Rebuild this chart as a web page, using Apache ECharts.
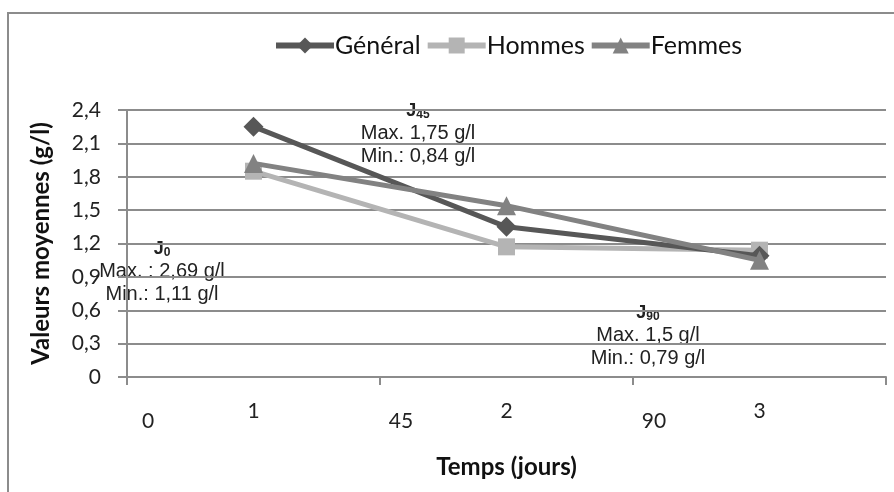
<!DOCTYPE html>
<html>
<head>
<meta charset="utf-8">
<script src="https://cdn.jsdelivr.net/npm/echarts@6/dist/echarts.min.js"></script>
<style>
  html, body { margin: 0; padding: 0; background: #fff; }
  #main { width: 894px; height: 492px; }
</style>
</head>
<body>
<div id="main"></div>
<script>
// data
var categories = ['1', '2', '3'];
var dayLabels = ['0', '45', '90', ''];
var general = [2.25, 1.35, 1.09];
var hommes = [1.85, 1.17, 1.14];
var femmes = [1.92, 1.54, 1.05];
var yTicks = { min: 0, max: 2.4, step: 0.3 };

var font = 'Lato, "Open Sans", sans-serif';
var gridColor = '#8c8c8c';

var chart = echarts.init(document.getElementById('main'));

// text boxes J0 / J45 / J90
function note(cx, top, day, max, min) {
    return {
        type: 'text',
        x: cx, y: top,
        silent: true,
        style: {
            text: '{j|J}{s|' + day + '}\n{t|' + max + '}\n{t|' + min + '}',
            align: 'center',
            textAlign: 'center',
            verticalAlign: 'top',
            fill: '#222',
            rich: {
                j: { fontSize: 18, fontWeight: 'bold', fontFamily: 'Liberation Sans', fill: '#222', lineHeight: 22 },
                s: { fontSize: 12, fontWeight: 'bold', fontFamily: 'Liberation Sans', fill: '#222', padding: [7, 0, 0, 0], lineHeight: 22 },
                t: { fontSize: 20, fontFamily: 'Liberation Sans', fill: '#222', lineHeight: 23 }
            }
        }
    };
}

var option = {
    backgroundColor: '#fff',
    animation: false,
    graphic: [
        {
            type: 'rect',
            shape: { x: 8, y: 13, width: 920, height: 520 },
            style: { fill: 'none', stroke: '#8c8c8c', lineWidth: 2 },
            silent: true
        },
        note(162, 238, '0', 'Max. : 2,69 g/l', 'Min.: 1,11 g/l'),
        note(418, 100, '45', 'Max. 1,75 g/l', 'Min.: 0,84 g/l'),
        note(648, 302, '90', 'Max. 1,5 g/l', 'Min.: 0,79 g/l')
    ],
    legend: {
        top: 28,
        left: 268,
        itemWidth: 58,
        itemHeight: 20,
        itemGap: 4,
        lineStyle: { width: 6 },
        textStyle: { fontFamily: font, fontSize: 25, color: '#111', padding: [0, 0, 0, -4] },
        data: ['Général', 'Hommes', 'Femmes']
    },
    grid: { left: 127, right: 8, top: 110, bottom: 115 },
    xAxis: [
        {
            type: 'category',
            data: categories,
            boundaryGap: true,
            name: 'Temps (jours)',
            nameLocation: 'middle',
            nameGap: 78,
            nameTextStyle: { fontFamily: font, fontSize: 24, fontWeight: 'bold', color: '#111' },
            axisLine: { lineStyle: { color: gridColor, width: 2 } },
            axisTick: { show: true, length: 8, lineStyle: { color: gridColor, width: 2 } },
            axisLabel: { margin: 24, fontFamily: font, fontSize: 21, color: '#222' }
        },
        {
            type: 'category',
            data: dayLabels,
            boundaryGap: false,
            position: 'bottom',
            axisLine: { show: false },
            axisTick: { show: false },
            axisLabel: { margin: 34, padding: [0, 0, 0, 42], fontFamily: font, fontSize: 21, color: '#222' }
        }
    ],
    yAxis: {
        type: 'value',
        min: yTicks.min,
        max: yTicks.max,
        interval: yTicks.step,
        name: 'Valeurs moyennes (g/l)',
        nameLocation: 'middle',
        nameGap: 74,
        nameTextStyle: { fontFamily: font, fontSize: 24, fontWeight: 'bold', color: '#111' },
        axisLine: { show: true, lineStyle: { color: gridColor, width: 2 } },
        axisTick: { show: true, length: 9, lineStyle: { color: gridColor, width: 2 } },
        splitLine: { lineStyle: { color: gridColor, width: 2 } },
        axisLabel: {
            margin: 26,
            fontFamily: font,
            fontSize: 21,
            color: '#222',
            formatter: function (v) { return String(Math.round(v * 10) / 10).replace('.', ','); }
        }
    },
    series: [
        {
            name: 'Général',
            type: 'line',
            data: general,
            symbol: 'diamond',
            symbolSize: 20,
            lineStyle: { width: 5, color: '#575757' },
            itemStyle: { color: '#575757' },
            z: 3
        },
        {
            name: 'Hommes',
            type: 'line',
            data: hommes,
            symbol: 'rect',
            symbolSize: 17,
            lineStyle: { width: 5, color: '#b4b4b4' },
            itemStyle: { color: '#b4b4b4' },
            z: 2
        },
        {
            name: 'Femmes',
            type: 'line',
            data: femmes,
            symbol: 'triangle',
            symbolSize: 19,
            lineStyle: { width: 5, color: '#828282' },
            itemStyle: { color: '#828282' },
            z: 4
        }
    ]
};

chart.setOption(option);
</script>
</body>
</html>
